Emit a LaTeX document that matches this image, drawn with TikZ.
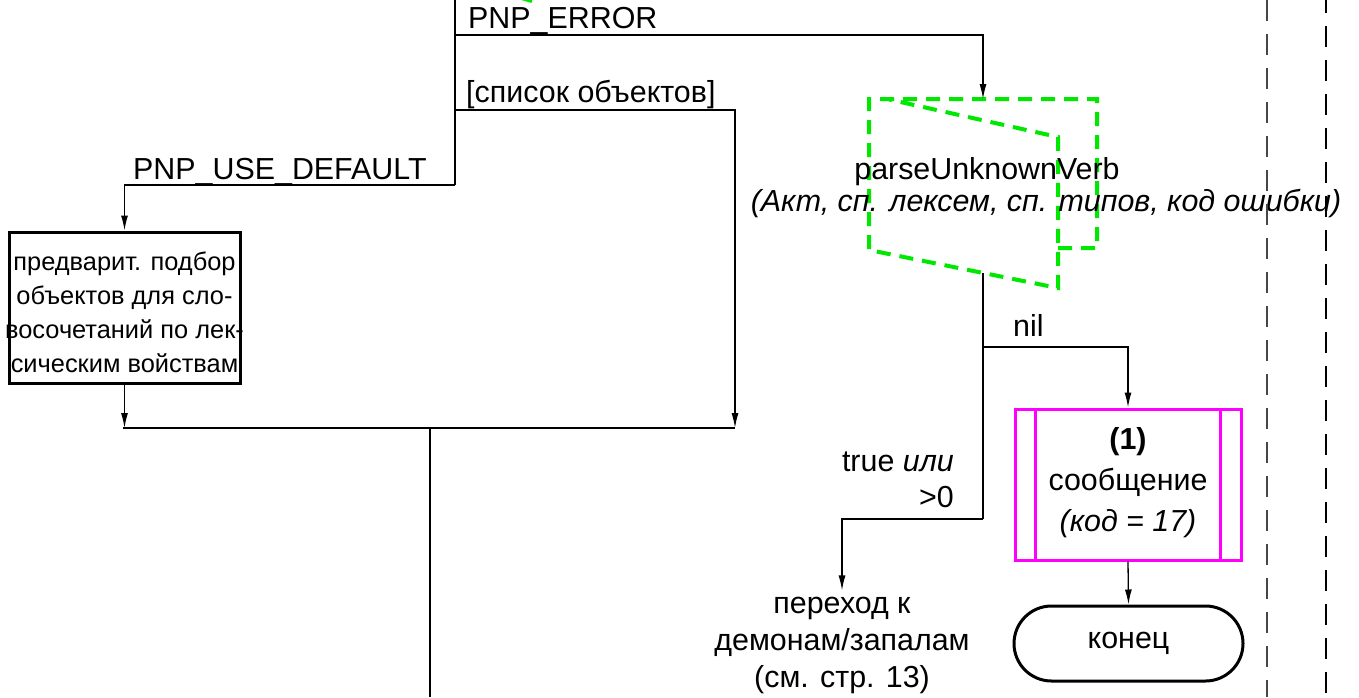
\documentclass[tikz,border=0pt]{standalone}
\usepackage{fontspec}
\setmainfont{Liberation Sans}
\usetikzlibrary{arrows.meta,shapes.misc}
\definecolor{procgreen}{RGB}{0,232,0}
\definecolor{msgmagenta}{RGB}{255,0,255}
\definecolor{bordergray}{RGB}{70,70,70}

\begin{document}
\begin{tikzpicture}[x=1pt,y=-1pt,
  line/.style={line width=1.3pt},
  arr/.style={line, -{Latex[length=15pt,width=7pt]}},
  lbl/.style={font=\fontsize{30.4}{36}\selectfont, inner sep=0pt},
  smalltext/.style={font=\fontsize{25.4}{34}\selectfont, align=center, inner sep=0pt},
  actionbox/.style={draw, line width=3pt, minimum width=231pt, minimum height=151pt, inner sep=0pt},
  msgbox/.style={draw=msgmagenta, line width=3pt, minimum width=226pt, minimum height=151pt, inner sep=0pt},
  msgtext/.style={font=\fontsize{30.4}{41}\selectfont, align=center, inner sep=0pt},
  terminal/.style={draw, rounded rectangle, line width=3pt, minimum width=229pt, minimum height=75pt,
    inner sep=0pt, font=\fontsize{30.4}{36}\selectfont},
  subproc/.style={draw=procgreen, line width=4pt, dash pattern=on 14pt off 9pt},
  border/.style={line width=1.6pt, dash pattern=on 21pt off 13pt}]

\useasboundingbox (0,0) rectangle (1359,697);

% branch points on the main vertical line
\coordinate (top) at (455,0);
\coordinate (jErr) at (455,35);
\coordinate (jList) at (455,110);
\coordinate (jUse) at (455,185);

% merge line
\coordinate (mergeL) at (123,428);
\coordinate (mergeR) at (735,428);
\coordinate (mergeOut) at (430,428);
\coordinate (down) at (430,697);

% preliminary selection box
\node[actionbox] (pre) at (124.5,307.5) {};
\node[smalltext] (pretext) at ([yshift=-5pt]pre.center)
  {предварит. подбор\\объектов для сло-\\восочетаний по лек-\\сическим войствам};

% parseUnknownVerb subprocess (dashed green outline)
\draw[subproc] (1058,248) -- (1097,248) -- (1097,99) -- (869,99) -- (869,250)
  -- (1058,288) -- (1058,137) -- (887,99);
\draw[subproc, dash pattern=] (518,-3) -- (532,1);
\coordinate (puvTop) at (983,99);
\coordinate (puvBot) at (983,273);
\node[lbl] (puvname) at (987,172) {parseUnknownVerb};
\node[lbl, font=\fontsize{30.4}{36}\selectfont\itshape] (puvargs) at (1046,203)
  {(Акт, сп. лексем, сп. типов, код ошибки)};

% results of parseUnknownVerb
\coordinate (jNil) at (983,347);
\coordinate (jTrue) at (983,519);
\node[msgbox] (msg) at (1128,484.5) {};
\node[msgtext] (msgtext) at ([yshift=2pt]msg.center)
  {\textbf{(1)}\\сообщение\\\textit{(код = 17)}};
\draw[msgmagenta, line width=3pt] ([xshift=22pt]msg.north west) -- ([xshift=22pt]msg.south west);
\draw[msgmagenta, line width=3pt] ([xshift=-22pt]msg.north east) -- ([xshift=-22pt]msg.south east);
\node[terminal] (end) at (1128.5,643.5) {конец};
\node[lbl, align=center, font=\fontsize{30.4}{37}\selectfont] (demons) at (842,645)
  {переход к\\демонам/запалам\\(см. стр. 13)};

% connectors
\draw[line] (top) -- (jUse);
\draw[arr] (jErr) -| (puvTop);
\draw[arr] (jList) -| (mergeR);
\draw[arr] (jUse) -| (pre.north);
\draw[arr] (pre.south) -- (pre.south |- mergeL);
\draw[line] (mergeL) -- (mergeR);
\draw[line] (mergeOut) -- (down);
\draw[line] (puvBot) -- (jTrue);
\draw[arr] (jNil) -| (msg.north);
\draw[arr] (jTrue) -| ([yshift=6pt]demons.north);
\draw[arr] (msg.south) -- (end.north);

% branch labels
\node[lbl, anchor=base west] (lErr) at (468,28) {PNP\_ERROR};
\node[lbl, anchor=base west] (lList) at (466,102) {[список объектов]};
\node[lbl, anchor=base west] (lUse) at (133,179) {PNP\_USE\_DEFAULT};
\node[lbl, anchor=base west] (lNil) at (1013,336) {nil};
\node[lbl, anchor=base east] (lTrue) at (954,471) {true \textit{или}};
\node[lbl, anchor=base east] (lGt) at (954,507) {>0};

% page frame lines
\coordinate (b1t) at (1267,0);
\coordinate (b1b) at (1267,697);
\coordinate (b2t) at (1326,0);
\coordinate (b2b) at (1326,697);
\draw[border, bordergray] (b1t) -- (b1b);
\draw[border, black, dash phase=8pt] (b2t) -- (b2b);
\end{tikzpicture}
\end{document}
